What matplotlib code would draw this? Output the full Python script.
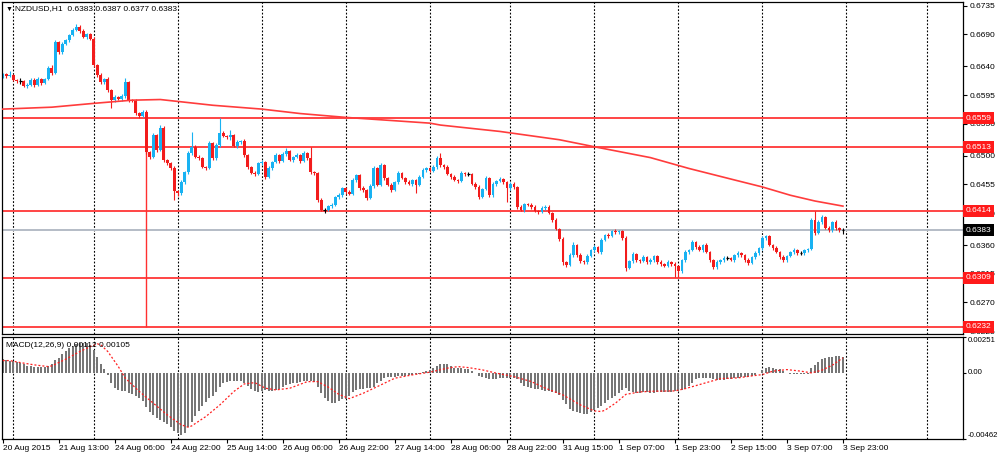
import numpy as np
import matplotlib.pyplot as plt

plt.rcParams['font.family'] = ['Liberation Sans', 'DejaVu Sans']

# NZDUSD H1, 20 Aug 2015 21:00 .. 3 Sep 2015 23:00, prices in pips (x 0.0001)
first_open = 6623
closes = [
    6628, 6625, 6626, 6619, 6617, 6617, 6609, 6611, 6619, 6611,
    6620, 6614, 6620, 6637, 6630, 6678, 6662, 6675, 6681, 6689,
    6697, 6702, 6695, 6686, 6691, 6683, 6642, 6626, 6615, 6620,
    6603, 6587, 6592, 6589, 6593, 6615, 6587, 6586, 6567, 6562,
    6568, 6506, 6498, 6532, 6509, 6543, 6493, 6488, 6481, 6445,
    6441, 6459, 6474, 6504, 6514, 6498, 6496, 6482, 6481, 6520,
    6496, 6517, 6535, 6531, 6529, 6532, 6515, 6521, 6523, 6501,
    6482, 6473, 6471, 6488, 6490, 6467, 6481, 6490, 6501, 6492,
    6503, 6507, 6493, 6498, 6501, 6492, 6504, 6496, 6474, 6473,
    6431, 6415, 6415, 6421, 6423, 6435, 6438, 6449, 6443, 6440,
    6462, 6470, 6449, 6446, 6434, 6452, 6481, 6454, 6485, 6465,
    6454, 6446, 6459, 6473, 6465, 6459, 6456, 6462, 6454, 6467,
    6478, 6481, 6476, 6482, 6496, 6485, 6482, 6471, 6467, 6462,
    6460, 6473, 6471, 6471, 6456, 6451, 6435, 6448, 6465, 6438,
    6456, 6460, 6463, 6459, 6449, 6456, 6451, 6420, 6415, 6424,
    6423, 6420, 6413, 6412, 6418, 6420, 6410, 6399, 6385, 6369,
    6333, 6329, 6344, 6360, 6344, 6335, 6333, 6343, 6352, 6357,
    6349, 6368, 6376, 6374, 6382, 6380, 6382, 6371, 6324, 6335,
    6346, 6336, 6335, 6341, 6333, 6336, 6343, 6333, 6330, 6327,
    6333, 6330, 6327, 6319, 6336, 6349, 6352, 6365, 6357, 6352,
    6360, 6349, 6336, 6325, 6333, 6336, 6340, 6340, 6337, 6344,
    6347, 6344, 6336, 6332, 6341, 6347, 6355, 6371, 6374, 6360,
    6355, 6349, 6341, 6336, 6343, 6349, 6352, 6347, 6347, 6352,
    6354, 6399, 6379, 6396, 6404, 6387, 6383, 6396, 6387, 6383, 6383,
]
upper_wick = [
    2, 2, 6, 2, 1, 4, 2, 3, 2, 2,
    3, 2, 2, 3, 5, 3, 2, 3, 2, 2,
    3, 4, 2, 3, 2, 2, 3, 2, 3, 2,
    3, 2, 3, 2, 3, 7, 2, 2, 3, 2,
    3, 4, 2, 3, 2, 5, 3, 2, 2, 3,
    2, 3, 2, 3, 23, 2, 3, 2, 2, 3,
    2, 3, 24, 3, 2, 8, 2, 3, 2, 3,
    2, 2, 3, 2, 3, 2, 3, 2, 3, 2,
    3, 5, 2, 2, 3, 2, 3, 2, 18, 2,
    2, 2, 3, 2, 3, 2, 3, 2, 2, 3,
    3, 2, 2, 3, 2, 3, 3, 2, 4, 2,
    2, 3, 2, 3, 2, 2, 3, 2, 2, 3,
    3, 2, 2, 3, 3, 8, 2, 3, 2, 2,
    2, 3, 2, 3, 2, 2, 3, 2, 3, 2,
    3, 2, 3, 2, 2, 3, 2, 2, 3, 2,
    2, 3, 2, 2, 3, 2, 2, 2, 3, 2,
    3, 2, 3, 4, 2, 3, 2, 3, 2, 3,
    2, 3, 2, 3, 2, 3, 2, 2, 3, 2,
    3, 2, 2, 3, 2, 3, 2, 2, 3, 2,
    3, 2, 3, 2, 2, 3, 2, 3, 2, 3,
    2, 3, 2, 2, 3, 2, 3, 3, 2, 2,
    3, 2, 2, 3, 2, 3, 2, 3, 2, 2,
    2, 3, 2, 3, 2, 2, 3, 2, 3, 2,
    2, 3, 14, 3, 3, 2, 3, 2, 3, 2, 4,
]
lower_wick = [
    2, 3, 2, 2, 3, 4, 2, 3, 2, 3,
    2, 3, 2, 2, 3, 2, 3, 2, 2, 3,
    2, 2, 3, 2, 3, 2, 3, 3, 2, 3,
    3, 12, 3, 2, 3, 2, 3, 2, 4, 3,
    2, 4, 3, 2, 3, 2, 3, 2, 3, 14,
    4, 2, 3, 2, 3, 2, 3, 2, 3, 2,
    3, 2, 3, 2, 3, 5, 2, 3, 2, 3,
    3, 2, 3, 2, 2, 3, 2, 3, 2, 3,
    2, 3, 2, 3, 2, 3, 2, 3, 2, 3,
    3, 2, 5, 2, 3, 2, 3, 2, 3, 2,
    2, 3, 2, 3, 3, 2, 3, 2, 2, 3,
    2, 3, 2, 3, 2, 3, 2, 3, 12, 2,
    2, 3, 2, 2, 3, 2, 3, 2, 3, 2,
    3, 2, 3, 3, 2, 3, 3, 2, 2, 3,
    2, 3, 2, 3, 21, 2, 3, 3, 2, 3,
    2, 3, 2, 3, 2, 3, 2, 3, 2, 3,
    4, 3, 2, 3, 2, 3, 2, 3, 2, 3,
    2, 3, 2, 3, 2, 3, 2, 3, 4, 2,
    3, 2, 3, 2, 3, 2, 3, 2, 3, 2,
    2, 3, 17, 9, 3, 2, 3, 2, 3, 2,
    3, 2, 3, 3, 2, 3, 2, 3, 2, 3,
    2, 3, 2, 3, 2, 3, 2, 2, 3, 2,
    3, 2, 3, 2, 3, 2, 3, 2, 3, 2,
    3, 2, 3, 2, 3, 2, 3, 2, 3, 2, 6,
]

# moving average read at some bars
ma_bars = [0, 14, 26, 37, 45, 50, 60, 74, 85, 98, 122, 125, 142, 159, 169, 185, 196, 209, 217, 225, 232, 240]
ma_pips = [6573, 6576, 6582, 6587, 6588, 6585, 6579, 6573, 6566, 6560, 6551, 6548, 6538, 6525, 6514, 6497, 6480, 6462, 6451, 6438, 6429, 6421]

levels = [0.6559, 0.6513, 0.6414, 0.6309, 0.6232]
last_price = 0.6383
marker_bar = 41

# MACD(12,26,9) histogram, x 0.00001
macd_hist = [
    96, 91, 86, 82, 75, 70, 61, 51, 47, 44,
    42, 42, 42, 47, 61, 89, 107, 135, 154, 172,
    189, 203, 207, 212, 207, 193, 161, 110, 63, 26,
    -14, -72, -105, -119, -124, -128, -138, -147, -161, -177,
    -200, -240, -270, -294, -317, -329, -340, -357, -375, -406,
    -422, -434, -417, -380, -340, -301, -263, -231, -203, -179,
    -161, -135, -100, -72, -63, -56, -54, -56, -58, -68,
    -89, -112, -124, -131, -124, -119, -124, -128, -121, -110,
    -98, -86, -77, -72, -68, -63, -58, -54, -56, -63,
    -96, -138, -177, -196, -207, -212, -196, -183, -180, -165,
    -135, -121, -114, -112, -107, -103, -96, -72, -56, -37,
    -30, -26, -26, -23, -21, -19, -14, -12, -7, -5,
    5, 14, 21, 37, 51, 61, 63, 61, 51, 37,
    33, 33, 30, 26, 14, -2, -19, -30, -37, -44,
    -44, -42, -37, -33, -33, -33, -35, -44, -72, -91,
    -100, -107, -112, -114, -119, -126, -130, -135, -142, -154,
    -189, -219, -252, -266, -275, -282, -289, -289, -275, -259,
    -242, -228, -207, -191, -177, -161, -140, -118, -108, -130,
    -137, -139, -138, -136, -137, -139, -138, -136, -137, -136,
    -135, -133, -130, -128, -121, -110, -91, -68, -44, -33,
    -33, -33, -35, -40, -47, -51, -47, -40, -40, -35,
    -33, -30, -28, -26, -21, -12, 2, 23, 35, 40,
    37, 30, 26, 12, 2, -5, -5, -7, -9, -9,
    -7, 37, 54, 77, 100, 107, 110, 114, 117, 115, 112,
]
signal_bars = [0, 2, 5, 9, 13, 14, 18, 22, 25, 27, 28, 30, 33, 35, 39, 43, 47, 51, 53, 54,
               58, 62, 66, 69, 72, 75, 78, 82, 87, 90, 93, 96, 99, 103, 108, 112, 117, 122,
               127, 130, 133, 137, 141, 146, 151, 155, 160, 165, 169, 171, 172, 175, 178,
               182, 186, 192, 195, 200, 205, 210, 214, 217, 220, 224, 228, 231, 234, 237, 240]
signal_vals = [86, 86, 72, 56, 44, 49, 96, 149, 184, 203, 196, 149, 44, -37, -130, -212, -294, -363, -380, -370,
               -305, -224, -130, -77, -68, -107, -119, -107, -61, -61, -100, -150, -180, -142, -84, -37, -14, 5,
               33, 44, 37, 21, -2, -26, -61, -107, -154, -224, -266, -270, -261, -212, -150,
               -133, -128, -126, -110, -75, -40, -35, -21, -12, 12, 23, 12, 0, 19, 54, 105]

day_starts = [3, 26, 50, 74, 98, 122, 145, 169, 193, 217, 241, 264]
time_labels = ['20 Aug 2015', '21 Aug 13:00', '24 Aug 06:00', '24 Aug 22:00', '25 Aug 14:00',
               '26 Aug 06:00', '26 Aug 22:00', '27 Aug 14:00', '28 Aug 06:00', '28 Aug 22:00',
               '31 Aug 15:00', '1 Sep 07:00', '1 Sep 23:00', '2 Sep 15:00', '3 Sep 07:00', '3 Sep 23:00']
price_ticks = [0.6735, 0.6690, 0.6640, 0.6595, 0.6550, 0.6500, 0.6455, 0.6410, 0.6360, 0.6315, 0.6270, 0.6225]

up_col = '#18b2f2'
dn_col = '#f21c1c'
fs = 6.0

c = np.array(closes) / 10000
o = np.array([first_open] + closes[:-1]) / 10000
top = np.maximum(o, c)
bot = np.minimum(o, c)
hi = top + np.array(upper_wick) / 10000
lo = bot - np.array(lower_wick) / 10000
idx = np.arange(len(c))

fig = plt.figure(figsize=(10, 4.55), dpi=100)
ax = fig.add_axes([0.002, 0.2659, 0.961, 0.7297])
ax2 = fig.add_axes([0.002, 0.0352, 0.961, 0.2242], sharex=ax)

# grid (day separators)
for a in (ax, ax2):
    for d in day_starts:
        a.axvline(d, color='black', lw=0.8, ls=(0, (1.6, 1.6)), zorder=0.5)

# levels
for lv in levels:
    ax.axhline(lv, color='#ff4444', lw=1.4, zorder=1)
ax.axhline(last_price, color='#b4bcc6', lw=1.4, zorder=1)
ax.vlines(marker_bar, levels[-1], levels[0], color='#ff3030', lw=1, zorder=1)

# candles
colors = np.where(c > o, up_col, np.where(c < o, dn_col, 'black'))
ax.vlines(idx, lo, hi, colors=colors, lw=0.8, zorder=2)
body = np.where(c == o, np.nan, top - bot)
ax.bar(idx, body, bottom=bot, width=0.78, color=colors, linewidth=0, zorder=2)
doji = c == o
ax.hlines(c[doji], idx[doji] - 0.4, idx[doji] + 0.4, color='black', lw=0.9, zorder=2)

# moving average
ax.plot(ma_bars, np.array(ma_pips) / 10000, color='#ff3c3c', lw=1.2, zorder=3)

ax.set_xlim(-0.23, 274.3)
ax.set_ylim(0.62206, 0.67408)
ax.yaxis.tick_right()
ax.set_yticks(price_ticks)
ax.set_yticklabels(['%.4f' % t for t in price_ticks])
ax.tick_params(axis='y', length=3, pad=2, labelsize=fs, direction='out')
ax.tick_params(axis='x', bottom=False, labelbottom=False)

for lv in levels:
    ax.text(1.003, lv, '%.4f' % lv, transform=ax.get_yaxis_transform(), color='white',
            fontsize=fs, va='center', ha='left', clip_on=False, zorder=10,
            bbox=dict(boxstyle='square,pad=0.3', facecolor='#ff1a1a', edgecolor='none'))
ax.text(1.003, last_price, '%.4f' % last_price, transform=ax.get_yaxis_transform(), color='white',
        fontsize=fs, va='center', ha='left', clip_on=False, zorder=10,
        bbox=dict(boxstyle='square,pad=0.3', facecolor='black', edgecolor='none'))

ax.text(0.004, 0.979, '\u25bc', transform=ax.transAxes, fontsize=5, va='center', ha='left')
ax.text(0.014, 0.979, 'NZDUSD,H1  0.6383 0.6387 0.6377 0.6383', transform=ax.transAxes,
        fontsize=fs, va='center', ha='left')

# MACD panel
ax2.bar(idx, macd_hist, width=0.6, color='#767676', linewidth=0, zorder=2)
ax2.plot(signal_bars, signal_vals, color='#ff2020', lw=0.9, ls=(0, (1.6, 1.6)), zorder=3)
ax2.set_ylim(-462, 251)
ax2.yaxis.tick_right()
ax2.set_yticks([251, 0, -462])
ax2.set_yticklabels(['0.00251', '0.00', '-0.00462'])
ax2.tick_params(axis='y', length=2.5, pad=1, labelsize=5.6, direction='out')
for lab, va in zip(ax2.get_yticklabels(), ['top', 'center', 'bottom']):
    lab.set_va(va)
ax2.text(0.004, 0.92, 'MACD(12,26,9) 0.00112 0.00105', transform=ax2.transAxes,
         fontsize=fs, va='center', ha='left')

ax2.set_xticks(list(range(0, 241, 16)))
ax2.set_xticklabels(time_labels, ha='left')
ax2.tick_params(axis='x', length=3, pad=1, labelsize=fs, direction='out')

for a in (ax, ax2):
    for s in a.spines.values():
        s.set_color('black')
        s.set_linewidth(0.9)

fig.savefig('out.png', dpi=100)
